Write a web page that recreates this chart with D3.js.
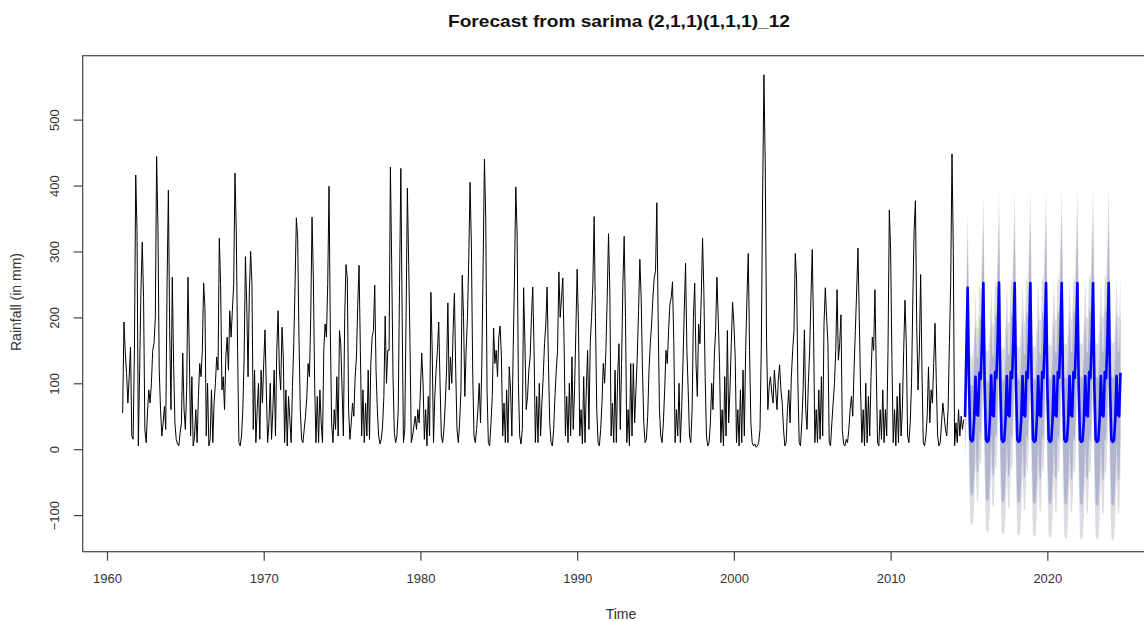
<!DOCTYPE html>
<html><head><meta charset="utf-8">
<script src="https://cdn.jsdelivr.net/npm/d3@7/dist/d3.min.js"></script>
<style>body{margin:0;background:#fff}svg{display:block}</style>
</head><body><svg id="chart" width="1144" height="621"></svg>
<script>
// ---------- DATA ----------
const titleText = "Forecast from sarima (2,1,1)(1,1,1)_12";
const xLabel = "Time";
const yLabel = "Rainfall (in mm)";
const startYear = 1961;           // monthly series starts Jan 1961
const rainfall = [
  55,193,146,115,70,110,155,20,15,150,416,330,
  5,120,240,314,230,30,10,55,90,70,100,150,
  160,200,444,339,120,60,20,40,65,30,250,393,
  180,60,261,130,40,15,8,5,25,40,146,60,
  30,90,261,150,20,110,5,18,60,10,80,130,
  110,150,252,215,20,100,5,15,90,10,70,100,
  140,120,320,250,90,110,60,140,170,120,210,170,
  210,250,419,330,150,10,5,20,60,140,292,220,
  110,240,300,250,30,120,10,60,100,15,120,70,
  130,181,90,10,40,100,15,60,120,20,150,210,
  120,90,185,140,10,90,5,80,45,10,95,160,
  250,351,320,170,60,15,10,30,50,80,130,110,
  200,352,260,100,10,80,10,90,40,10,150,190,
  170,250,399,180,40,10,60,30,110,20,180,160,
  90,20,200,280,260,60,15,40,70,50,110,140,
  220,279,150,20,90,10,70,20,120,15,130,170,
  180,249,120,60,20,8,15,35,80,202,100,150,
  150,428,280,110,25,10,20,60,250,426,200,10,
  30,200,396,280,160,10,20,35,50,30,60,40,
  90,146,100,15,60,5,80,20,238,150,10,80,
  120,150,193,100,20,10,30,70,120,222,90,140,
  100,180,237,120,30,10,40,90,264,200,80,150,
  200,290,405,310,120,20,10,30,60,100,40,130,
  280,440,350,90,10,5,40,80,184,130,150,110,
  170,187,140,20,70,10,90,10,125,90,20,150,
  260,398,330,100,20,8,30,245,160,60,80,120,
  140,200,246,150,10,80,10,100,20,70,110,160,
  190,246,130,40,10,5,30,80,120,150,269,200,
  230,260,160,20,80,10,100,20,140,30,90,180,
  273,190,20,60,8,110,10,90,150,30,160,200,
  250,353,200,60,10,5,30,70,130,100,150,230,
  327,240,20,70,10,120,10,110,160,30,130,250,
  323,200,10,60,5,130,20,130,40,90,140,210,
  288,230,120,40,10,15,50,120,160,190,230,260,
  270,374,200,60,20,10,40,90,150,130,180,220,
  230,254,160,10,60,20,100,10,60,130,210,282,
  150,90,20,10,60,200,252,130,80,190,160,230,
  320,240,110,20,5,10,40,100,60,140,180,261,
  200,130,10,60,5,110,20,180,40,90,160,223,
  190,140,10,60,5,90,10,120,20,150,230,297,
  150,40,10,5,8,3,5,10,30,158,383,568,
  432,166,60,95,110,85,70,120,90,60,105,128,
  90,70,30,5,10,60,90,40,110,150,180,297,
  257,100,10,5,40,90,181,60,30,100,150,230,
  303,180,10,60,10,90,15,110,20,190,245,200,
  160,10,5,40,70,100,150,242,135,160,204,30,
  8,5,15,10,30,60,80,50,120,180,240,305,
  200,90,10,60,5,100,10,80,20,110,170,150,
  242,120,10,5,60,15,90,10,60,20,150,363,
  302,136,10,60,5,80,10,100,20,60,150,226,
  161,20,10,40,100,226,333,377,185,90,150,265,
  120,10,5,20,50,125,40,90,70,130,191,100,
  20,5,10,40,70,50,30,20,60,160,252,448,
  300,5,40,10,60,20,50,30,45
];
const fcStartYear = 2014, fcStartMonth = 9;   // forecast starts Oct 2014 (0-based month)
const fcMean = [
  49,150,245,
  98,16,12,14,46,110,53,51,116,107,168,252,
  96,15,11,13,45,112,52,50,117,108,166,253,
  97,15,11,13,45,111,52,50,117,108,167,252,
  96,15,11,13,45,111,52,50,117,108,166,252,
  97,15,11,13,45,111,52,50,117,108,166,252,
  96,15,11,13,45,111,52,50,117,108,166,252,
  96,15,11,13,45,111,52,50,117,108,166,252,
  96,15,11,13,45,111,52,50,117,108,166,252,
  96,15,11,13,45,111,52,50,117,108,166,252,
  96,15,11,13,45,111,52,50,116
];
const fcHw80 = [
  47,64,78,
  81,82,83,84,84,85,86,86,87,88,88,89,
  89,90,90,90,90,90,90,91,91,91,91,92,
  92,92,92,92,92,92,92,92,92,93,93,93,
  93,93,93,93,93,93,93,94,94,94,94,94,
  94,94,94,94,94,94,94,94,94,95,95,95,
  95,95,95,95,95,95,95,95,95,95,95,95,
  95,95,96,96,96,96,96,96,96,96,96,96,
  96,96,96,96,96,96,96,96,97,97,97,97,
  97,97,97,97,97,97,97,97,97,97,97,97,
  97,97,97,97,97,97,97,97,97
];
const fcHw95 = [
  72,98,120,
  124,126,127,128,129,130,131,132,133,134,135,136,
  136,137,137,137,138,138,138,139,139,139,139,140,
  140,140,140,140,141,141,141,141,141,142,142,142,
  142,142,142,143,143,143,143,143,143,144,144,144,
  144,144,144,144,144,145,145,145,145,145,145,145,
  145,145,146,146,146,146,146,146,146,146,146,146,
  146,147,147,147,147,147,147,147,147,147,147,147,
  147,148,148,148,148,148,148,148,148,148,148,148,
  148,148,148,149,149,149,149,149,149,149,149,149,
  149,149,149,149,149,149,149,149,149
];
const xTicks = [1960,1970,1980,1990,2000,2010,2020];
const yTicks = [-100,0,100,200,300,400,500];

// ---------- CHART ----------
const svg = d3.select("#chart");
const font = "'Liberation Sans', Arial, sans-serif";
const x = d3.scaleLinear().domain([1958.45, 2027.22]).range([82.7, 1160.5]);
const y = d3.scaleLinear().domain([-155.5, 597]).range([551.7, 55.7]);

const hist = rainfall.map((v,i)=>({t: startYear + i/12, v}));
const fc = fcMean.map((v,i)=>({t: fcStartYear + (fcStartMonth + i)/12, v,
  lo80: v - fcHw80[i], hi80: v + fcHw80[i], lo95: v - fcHw95[i], hi95: v + fcHw95[i]}));

const plot = svg.append("g");
plot.append("path").datum(fc)
  .attr("fill", "#dcdce3")
  .attr("d", d3.area().x(d=>x(d.t)).y0(d=>y(d.lo95)).y1(d=>y(d.hi95)));
plot.append("path").datum(fc)
  .attr("fill", "#b1b5cd")
  .attr("d", d3.area().x(d=>x(d.t)).y0(d=>y(d.lo80)).y1(d=>y(d.hi80)));
plot.append("path").datum(hist)
  .attr("fill","none").attr("stroke","#000").attr("stroke-width",1)
  .attr("d", d3.line().x(d=>x(d.t)).y(d=>y(d.v)));
plot.append("path").datum(fc)
  .attr("fill","none").attr("stroke","#0000ff").attr("stroke-width",2.6)
  .attr("stroke-linejoin","round")
  .attr("d", d3.line().x(d=>x(d.t)).y(d=>y(d.v)));

// box
svg.append("rect").attr("x",82.7).attr("y",55.7).attr("width",1160.5-82.7).attr("height",551.7-55.7)
  .attr("fill","none").attr("stroke","#444").attr("stroke-width",1.2);

// axes
const ax = svg.append("g").attr("transform","translate(0,551.7)")
  .call(d3.axisBottom(x).tickValues(xTicks).tickFormat(d3.format("d")).tickSize(9).tickPadding(13));
const ay = svg.append("g").attr("transform","translate(82.7,0)")
  .call(d3.axisLeft(y).tickValues(yTicks).tickFormat(d3.format("d")).tickSize(9));
[ax, ay].forEach(g=>{
  g.select(".domain").remove();
  g.selectAll(".tick line").attr("stroke","#444").attr("stroke-width",1.2);
  g.selectAll("text").attr("font-family",font).attr("font-size",13).attr("fill","#333");
});
ay.selectAll(".tick text")
  .attr("x",0).attr("dy",0)
  .attr("text-anchor","middle")
  .attr("transform","translate(-24,0) rotate(-90)");

// titles
svg.append("text").attr("x",619).attr("y",27).attr("text-anchor","middle")
  .attr("font-family",font).attr("font-weight","bold").attr("font-size",17).attr("fill","#111")
  .attr("textLength",342).attr("lengthAdjust","spacingAndGlyphs")
  .text(titleText);
svg.append("text").attr("x",621).attr("y",619).attr("text-anchor","middle")
  .attr("font-family",font).attr("font-size",14).attr("fill","#333").text(xLabel);
svg.append("text").attr("transform","translate(21,302) rotate(-90)").attr("text-anchor","middle")
  .attr("font-family",font).attr("font-size",14).attr("fill","#333").text(yLabel);
</script></body></html>
